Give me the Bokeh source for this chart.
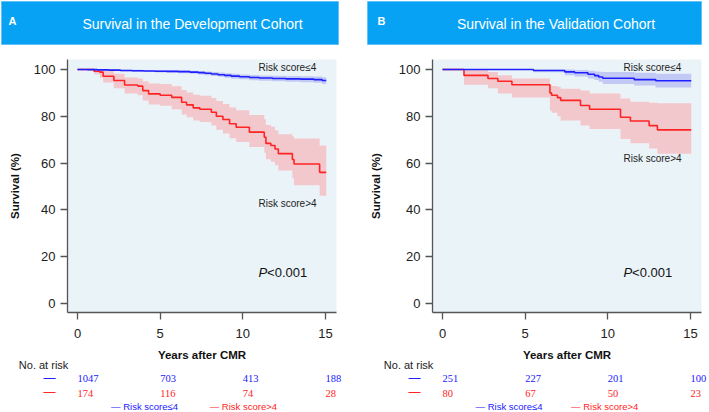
from bokeh.plotting import figure
from bokeh.layouts import row, column
from bokeh.models import Range1d, FixedTicker, Label, LabelSet, ColumnDataSource
from bokeh.embed import file_html
from bokeh.resources import INLINE

FONT = "Liberation Sans"

# ---------------- data ----------------
year_ticks = [0, 5, 10, 15]
surv_ticks = [0, 20, 40, 60, 80, 100]
risk_times = [0, 5, 10, 15]

# Panel A - development cohort, risk score <= 4
devA_low_t = [0, 0.6, 1.2, 1.9, 2.6, 3.3, 4.0, 4.7, 5.4, 6.1, 6.8, 7.3, 7.7, 8.1, 8.5, 8.9, 9.3, 9.8,
              10.4, 11.0, 11.8, 12.6, 13.5, 14.3, 14.8, 15.05]
devA_low_s = [100, 99.95, 99.85, 99.75, 99.6, 99.5, 99.4, 99.3, 99.2, 99.1, 98.9, 98.7, 98.4, 98.1, 97.8,
              97.5, 97.2, 96.9, 96.6, 96.4, 96.2, 96.0, 95.9, 95.7, 95.3, 95.3]
devA_low_lo = [100, 99.8, 99.6, 99.4, 99.2, 99.0, 98.9, 98.7, 98.6, 98.4, 98.2, 97.9, 97.6, 97.2, 96.9,
               96.5, 96.1, 95.8, 95.4, 95.2, 95.0, 94.8, 94.6, 94.3, 93.8, 93.8]
devA_low_hi = [100, 100, 100, 100, 99.95, 99.9, 99.85, 99.8, 99.75, 99.7, 99.5, 99.4, 99.2, 99.0, 98.7,
               98.4, 98.2, 97.9, 97.7, 97.5, 97.3, 97.2, 97.1, 97.0, 96.7, 96.7]

# Panel A - development cohort, risk score > 4
devA_high_t = [0, 1.0, 1.35, 1.55, 2.2, 2.85, 3.65, 3.95, 4.3, 5.0, 5.7, 6.3, 6.6, 7.0, 7.4, 8.1, 8.4,
               8.8, 9.2, 9.6, 10.4, 11.3, 11.4, 11.7, 11.95, 12.15, 13.0, 13.1, 14.65, 15.05]
devA_high_s = [100, 99.3, 98.9, 97.1, 95.3, 93.4, 92.9, 91.0, 89.6, 89.0, 88.1, 86.0, 84.9, 83.6, 83.0,
               81.7, 80.0, 78.6, 76.8, 75.3, 73.2, 71.0, 68.4, 67.5, 66.0, 64.0, 61.5, 59.6, 56.0, 56.0]
devA_high_lo = [100, 98.0, 96.5, 94.5, 92.0, 89.8, 89.0, 86.8, 85.0, 84.5, 83.0, 80.8, 79.6, 78.2, 77.6,
                76.0, 74.2, 72.6, 70.6, 69.0, 66.8, 64.4, 61.6, 60.5, 59.0, 56.8, 53.5, 50.5, 46.0, 46.0]
devA_high_hi = [100, 100, 100, 99.5, 98.2, 96.6, 96.2, 95.0, 94.0, 93.8, 92.9, 91.2, 90.2, 89.2, 88.8,
                87.8, 86.5, 85.3, 83.8, 82.6, 80.6, 78.7, 76.3, 75.5, 74.0, 72.3, 71.5, 70.5, 67.5, 67.5]

# Panel B - validation cohort, risk score <= 4
valB_low_t = [0, 5.5, 7.4, 8.0, 8.8, 9.2, 9.45, 9.7, 11.6, 12.9, 15.05]
valB_low_s = [100, 99.6, 99.0, 98.6, 98.0, 97.4, 96.8, 96.3, 95.7, 95.2, 95.2]
valB_low_lo = [100, 98.8, 97.6, 97.0, 96.2, 95.5, 94.8, 93.8, 93.2, 92.3, 92.3]
valB_low_hi = [100, 100, 100, 99.8, 99.5, 99.2, 99.1, 99.0, 98.6, 98.2, 98.2]

# Panel B - validation cohort, risk score > 4
valB_high_t = [0, 1.3, 2.75, 3.35, 4.2, 6.5, 6.6, 6.95, 7.15, 8.35, 8.9, 10.77, 11.37, 12.5, 13.0, 15.05]
valB_high_s = [100, 97.5, 96.2, 95.0, 93.5, 90.0, 89.0, 88.0, 86.8, 84.6, 83.0, 79.6, 78.0, 76.0, 74.2, 74.2]
valB_high_lo = [100, 93.5, 92.0, 89.8, 88.0, 82.5, 81.5, 80.0, 78.2, 76.0, 74.6, 70.3, 68.5, 66.2, 64.0, 64.0]
valB_high_hi = [100, 100, 99.0, 97.6, 96.2, 93.5, 93.0, 92.6, 91.8, 91.0, 89.8, 87.6, 86.2, 85.8, 85.6, 85.6]

# numbers at risk
devA_risk_low = [1047, 703, 413, 188]
devA_risk_high = [174, 116, 74, 28]
valB_risk_low = [251, 227, 201, 100]
valB_risk_high = [80, 67, 50, 23]

titles = ["Survival in the Development Cohort", "Survival in the Validation Cohort"]
panel_letters = ["A", "B"]
group_labels = ["Risk score\u22644", "Risk score>4"]

# ---------------- style ----------------
BAR = "#08A2F4"
BG = "#EAF3F8"
BLUE = "#2020FF"
RED = "#FF2424"
BLUE_BAND = "#C2C9F4"
RED_BAND = "#F3C8CD"
AXIS = "#555555"

X0, X1 = -0.605, 15.67          # x range of the survival frame
Y0, Y1 = -3.98, 104.3           # y range of the survival frame
FRAME_W, FRAME_H = 269, 253
PX_PER_YEAR = FRAME_W / (X1 - X0)

TITLE_H = 45
MAIN_TOP, MAIN_BOTTOM = 14, 33
MAIN_H = MAIN_TOP + FRAME_H + MAIN_BOTTOM     # rows 45..345
TABLE_H = 412 - TITLE_H - MAIN_H              # rows 345..412
TABLE_TOP = TITLE_H + MAIN_H


def make_panel(idx, x_off, width, left, right, bar_l, bar_r, title_shift, ylab_standoff, low, high,
               risk_low, risk_high, legend_x, high_label_y):
    # --- title bar (the frame is the coloured bar); ranges are page pixels
    t = figure(width=width, height=TITLE_H, output_backend="svg", toolbar_location=None,
               x_axis_type=None, y_axis_type=None,
               x_range=Range1d(bar_l, bar_r), y_range=Range1d(TITLE_H - 1, 1),
               min_border_left=bar_l - x_off, min_border_right=width - (bar_r - x_off),
               min_border_top=1, min_border_bottom=1)
    t.background_fill_color = BAR
    t.border_fill_color = "white"
    t.outline_line_color = "#62C2F7"
    t.outline_line_width = 1
    t.grid.visible = False
    t.add_layout(Label(x=(bar_l + bar_r) / 2 + title_shift, y=23, text=titles[idx],
                       text_color="white", text_font=FONT, text_font_size="14px",
                       text_align="center", text_baseline="middle"))
    t.add_layout(Label(x=bar_l + (7 if idx == 0 else 10), y=20.5, text=panel_letters[idx],
                       text_color="white", text_font=FONT, text_font_size="11px",
                       text_font_style="bold", text_align="left", text_baseline="middle"))

    # --- survival plot
    p = figure(width=width, height=MAIN_H, output_backend="svg", toolbar_location=None,
               x_range=Range1d(X0, X1), y_range=Range1d(Y0, Y1),
               min_border_left=left, min_border_right=right,
               min_border_top=MAIN_TOP, min_border_bottom=MAIN_BOTTOM)
    p.background_fill_color = BG
    p.border_fill_color = "white"
    p.outline_line_color = None
    p.xgrid.visible = False
    p.ygrid.visible = False
    for ax in (p.xaxis[0], p.yaxis[0]):
        ax.axis_line_color = AXIS
        ax.axis_line_width = 1.3
        ax.major_tick_line_color = AXIS
        ax.major_tick_line_width = 1.3
        ax.major_tick_out = 7
        ax.major_tick_in = 0
        ax.minor_tick_line_color = None
        ax.major_label_text_font = FONT
        ax.major_label_text_font_size = "13px"
        ax.major_label_text_color = "#222222"
        ax.axis_label_text_font = FONT
        ax.axis_label_text_font_size = "11.5px"
        ax.axis_label_text_font_style = "bold"
        ax.axis_label_text_color = "#111111"
    p.xaxis.major_label_standoff = 9
    p.yaxis.major_label_standoff = 5
    p.xaxis.ticker = FixedTicker(ticks=year_ticks)
    p.yaxis.ticker = FixedTicker(ticks=surv_ticks)
    p.yaxis.axis_label = "Survival (%)"
    p.yaxis.axis_label_standoff = ylab_standoff

    hi_t, hi_s, hi_lo, hi_hi = high
    lo_t, lo_s, lo_lo, lo_hi = low
    p.varea_step(x=hi_t, y1=hi_lo, y2=hi_hi, step_mode="after", fill_color=RED_BAND)
    p.varea_step(x=lo_t, y1=lo_lo, y2=lo_hi, step_mode="after", fill_color=BLUE_BAND)
    p.step(x=hi_t, y=hi_s, mode="after", line_color=RED, line_width=1.6)
    p.step(x=lo_t, y=lo_s, mode="after", line_color=BLUE, line_width=1.6)

    lbl = dict(text_font=FONT, text_font_size="10px", text_color="#222222",
               text_align="left", text_baseline="middle")
    p.add_layout(Label(x=10.95, y=101.0, text=group_labels[0], **lbl))
    p.add_layout(Label(x=10.95, y=high_label_y, text=group_labels[1], **lbl))
    pv = dict(text_font=FONT, text_font_size="13px", text_color="#111111",
              text_align="left", text_baseline="middle")
    p.add_layout(Label(x=10.95, y=13.3, text="P", text_font_style="italic", **pv))
    p.add_layout(Label(x=11.47, y=13.3, text="<0.001", **pv))

    # --- x-axis title and number-at-risk table (x in years, y in page pixel rows)
    tx0 = X0 - left / PX_PER_YEAR
    tx1 = X1 + right / PX_PER_YEAR
    r = figure(width=width, height=TABLE_H, output_backend="svg", toolbar_location=None,
               x_axis_type=None, y_axis_type=None,
               x_range=Range1d(tx0, tx1), y_range=Range1d(412, TABLE_TOP),
               min_border_left=0, min_border_right=0, min_border_top=0, min_border_bottom=0)
    r.outline_line_color = None
    r.background_fill_color = "white"
    r.border_fill_color = "white"
    r.grid.visible = False
    r.add_layout(Label(x=(X0 + X1) / 2, y=354, text="Years after CMR", text_font=FONT,
                       text_font_size="11.5px", text_font_style="bold", text_color="#111111",
                       text_align="center", text_baseline="middle"))
    small = dict(text_font=FONT, text_baseline="middle", text_align="left")
    r.add_layout(Label(x=-3.55, y=364.5, text="No. at risk", text_font_size="11px",
                       text_color="#222222", **small))
    src = ColumnDataSource(dict(t=risk_times, n1=[str(v) for v in risk_low],
                                n2=[str(v) for v in risk_high],
                                y1=[378.3] * 4, y2=[392.5] * 4))
    r.add_layout(LabelSet(x="t", y="y1", text="n1", source=src, text_color=BLUE,
                          text_font_size="10.5px", **small))
    r.add_layout(LabelSet(x="t", y="y2", text="n2", source=src, text_color=RED,
                          text_font_size="10.5px", **small))
    r.add_layout(Label(x=-2.06, y=377, text="\u2014", text_color=BLUE,
                       text_font_size="12px", **small))
    r.add_layout(Label(x=-2.06, y=391.5, text="\u2014", text_color=RED,
                       text_font_size="12px", **small))
    r.add_layout(Label(x=legend_x[0], y=406, text="\u2014 " + group_labels[0], text_color=BLUE,
                       text_font_size="9.5px", **small))
    r.add_layout(Label(x=legend_x[1], y=406, text="\u2014 " + group_labels[1], text_color=RED,
                       text_font_size="9.5px", **small))
    return t, p, r


tA, pA, rA = make_panel(0, 0, 359, 67, 23, 1, 338, 22.5, 10,
                        (devA_low_t, devA_low_s, devA_low_lo, devA_low_hi),
                        (devA_high_t, devA_high_s, devA_high_lo, devA_high_hi),
                        devA_risk_low, devA_risk_high, (2.03, 8.0), 42.5)
tB, pB, rB = make_panel(1, 359, 350, 73, 8, 367, 701, 21.5, 14,
                        (valB_low_t, valB_low_s, valB_low_lo, valB_low_hi),
                        (valB_high_t, valB_high_s, valB_high_lo, valB_high_hi),
                        valB_risk_low, valB_risk_high, (2.0, 7.78), 61.8)

layout = column(row(tA, tB), row(pA, pB), row(rA, rB))
open("out.html", "w").write(file_html(layout, INLINE))
